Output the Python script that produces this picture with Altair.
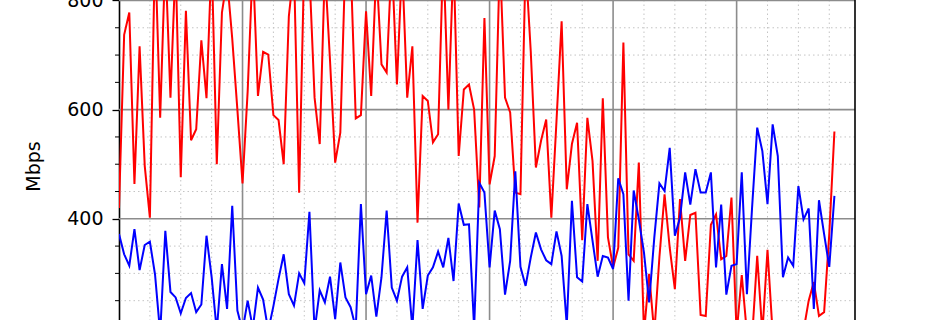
import altair as alt
import pandas as pd

# --- data (values above 800 / below ~215 are clipped in view) ---
red_mbps = [420, 737, 778, 464, 716, 497, 402, 900, 585, 880,
            622, 870, 476, 781, 544, 564, 727, 621, 880, 500,
            778, 840, 730, 600, 465, 634, 870, 625, 706, 701,
            590, 581, 500, 771, 860, 448, 880, 850, 622, 537,
            860, 690, 503, 558, 880, 870, 584, 590, 780, 625,
            860, 683, 668, 880, 646, 870, 622, 716, 393, 625,
            616, 540, 555, 890, 600, 880, 515, 637, 646, 600,
            421, 768, 463, 515, 880, 622, 595, 448, 445, 870,
            707, 494, 543, 582, 402, 579, 762, 454, 537, 576,
            361, 585, 506, 323, 621, 366, 311, 347, 723, 335,
            323, 503, 190, 299, 190, 330, 445, 347, 271, 436,
            323, 407, 411, 224, 222, 389, 408, 326, 332, 439,
            190, 297, 190, 180, 332, 190, 343, 190, 180, 190,
            180, 190, 185, 195, 250, 284, 222, 229, 372, 560]

blue_mbps = [372, 335, 314, 381, 306, 352, 358, 298, 190, 378,
             266, 256, 227, 255, 264, 229, 243, 369, 293, 195,
             317, 235, 424, 232, 195, 250, 200, 274, 252, 195,
             240, 290, 335, 262, 241, 300, 282, 413, 195, 269,
             247, 294, 216, 320, 256, 238, 200, 427, 262, 296,
             221, 293, 415, 274, 250, 294, 311, 200, 361, 235,
             296, 311, 340, 311, 365, 286, 428, 389, 390, 200,
             466, 448, 311, 415, 381, 261, 323, 487, 312, 277,
             329, 375, 344, 324, 317, 377, 332, 205, 433, 293,
             285, 427, 360, 294, 332, 329, 308, 474, 445, 250,
             452, 399, 338, 247, 365, 465, 451, 530, 369, 402,
             485, 426, 491, 448, 448, 485, 311, 426, 261, 314,
             317, 485, 262, 420, 567, 524, 427, 573, 515, 293,
             329, 314, 460, 399, 419, 235, 434, 372, 312, 442]

# half-hour sample index; grid every 3 h (minor) and 12 h (major)
major_x_ticks = [24, 48, 72, 96, 120]
minor_x_ticks = [6, 12, 18, 30, 36, 42, 54, 60, 66, 78, 84, 90, 102, 108, 114, 126, 132, 138]
major_y_ticks = [400, 600, 800]
minor_y_ticks = [250, 300, 350, 450, 500, 550, 650, 700, 750]
y_axis_labels = [200, 400, 600, 800, 1000]

X_DOMAIN = [0, 143]
Y_DOMAIN = [214.6, 800.9]

red_df = pd.DataFrame({"i": list(range(len(red_mbps))), "Mbps": red_mbps})
blue_df = pd.DataFrame({"i": list(range(len(blue_mbps))), "Mbps": blue_mbps})

xs = alt.Scale(domain=X_DOMAIN, nice=False, zero=False)
ys = alt.Scale(domain=Y_DOMAIN, nice=False, zero=False)

y_axis = alt.Axis(
    values=y_axis_labels,
    grid=False,
    domain=True,
    domainColor="#000000",
    domainWidth=1.6,
    ticks=True,
    tickColor="#000000",
    tickSize=7,
    tickWidth=1.3,
    labelFont="DejaVu Sans",
    labelFontSize=19,
    labelColor="#000000",
    labelPadding=9,
    title="Mbps",
    titleFont="DejaVu Sans",
    titleFontSize=19,
    titleFontWeight="normal",
    titleColor="#000000",
    titleAngle=270,
    titleAlign="center",
    titleBaseline="middle",
    titleX=-86,
    titleY=166,
)


def ych(field="Mbps"):
    return alt.Y(f"{field}:Q", scale=ys, axis=y_axis, title="Mbps")


minor_vgrid = alt.Chart(pd.DataFrame({"i": minor_x_ticks})).mark_rule(
    color="#c4c4c4", strokeWidth=1, strokeDash=[1.5, 3]
).encode(x=alt.X("i:Q", scale=xs, axis=None))

minor_hgrid = alt.Chart(pd.DataFrame({"Mbps": minor_y_ticks})).mark_rule(
    color="#c4c4c4", strokeWidth=1, strokeDash=[1.5, 3]
).encode(y=ych())

major_vgrid = alt.Chart(pd.DataFrame({"i": major_x_ticks})).mark_rule(
    color="#8c8c8c", strokeWidth=1.6
).encode(x=alt.X("i:Q", scale=xs, axis=None))

major_hgrid = alt.Chart(pd.DataFrame({"Mbps": major_y_ticks})).mark_rule(
    color="#8c8c8c", strokeWidth=1.6
).encode(y=ych())

red_line = alt.Chart(red_df).mark_line(
    color="#ff0000", strokeWidth=2, clip=True
).encode(
    x=alt.X("i:Q", scale=xs, axis=None),
    y=ych(),
)

blue_line = alt.Chart(blue_df).mark_line(
    color="#0000ff", strokeWidth=2, clip=True
).encode(
    x=alt.X("i:Q", scale=xs, axis=None),
    y=ych(),
)

minor_ticks = alt.Chart(pd.DataFrame({"Mbps": minor_y_ticks})).mark_rule(
    color="#000000", strokeWidth=1
).encode(
    x=alt.value(-4), x2=alt.value(0),
    y=ych(),
)

right_spine = alt.Chart(pd.DataFrame({"i": [X_DOMAIN[1]]})).mark_rule(
    color="#000000", strokeWidth=1.6
).encode(x=alt.X("i:Q", scale=xs, axis=None))

chart = alt.layer(
    minor_vgrid, minor_hgrid, major_vgrid, major_hgrid,
    red_line, blue_line, minor_ticks, right_spine
).properties(
    width=736,
    height=320,
    padding={"left": 119, "right": 95, "top": 0, "bottom": 0},
    autosize=alt.AutoSizeParams(type="none"),
    background="#ffffff",
).configure_view(stroke=None)

chart.save("out.html", embed_options={"renderer": "svg", "actions": False})
